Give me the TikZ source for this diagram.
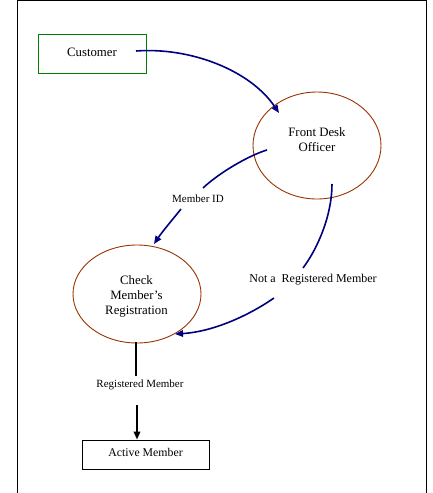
\documentclass[tikz,border=0pt]{standalone}
\usepackage{fontspec}
\setmainfont{Liberation Serif}
\usetikzlibrary{shapes.geometric,arrows.meta}
\definecolor{navyc}{RGB}{0,0,128}
\definecolor{brownc}{RGB}{153,51,0}
\definecolor{greenc}{RGB}{0,128,0}
\tikzset{
  procell/.style={draw=brownc, line width=0.9pt, ellipse, inner sep=0pt},
  entbox/.style={draw, line width=0.9pt, rectangle, inner sep=0pt},
  flow/.style={draw=navyc, line width=1.6pt},
  flowarr/.style={flow, -{Triangle[length=8pt,width=6.5pt]}},
  blk/.style={draw=black, line width=1.8pt},
  blkarr/.style={blk, -{Triangle[length=8pt,width=6.5pt]}},
  lbl/.style={inner sep=0pt, align=center}
}
\begin{document}
\begin{tikzpicture}[x=1pt,y=-1pt]
\useasboundingbox (0,0) rectangle (433,493);
\fill[white] (0,0) rectangle (433,493);
\draw[line width=1.3pt] (17.5,493) -- (17.5,0.7) -- (426.5,0.7) -- (426.5,493);

\node[entbox, draw=greenc, minimum width=108pt, minimum height=39pt] (cust) at (92,53.5) {};
\node[lbl, font=\fontsize{12.8}{15}\selectfont] (custtext) at (92,52) {Customer};

\node[procell, minimum width=128pt, minimum height=107pt] (fd) at (317,145.5) {};
\node[lbl, font=\fontsize{12.8}{15}\selectfont] (fdtext) at (317,139.5) {Front Desk\\Officer};

\node[procell, minimum width=128pt, minimum height=98pt] (chk) at (137,294) {};
\node[lbl, font=\fontsize{12.8}{15}\selectfont] (chktext) at (136.5,296) {Check\\Member’s\\Registration};

\node[entbox, minimum width=127pt, minimum height=29pt] (act) at (145.5,454.5) {};
\node[lbl, font=\fontsize{11.8}{14}\selectfont] (acttext) at (145.5,452) {Active Member};

\node[lbl, font=\fontsize{11}{13}\selectfont] (memid) at (198,199) {Member ID};
\node[lbl, font=\fontsize{12}{14}\selectfont] (notreg) at (313,280) {Not a\ \ Registered Member};
\node[lbl, font=\fontsize{11}{13}\selectfont] (regm) at (140,385) {Registered Member};

% Customer -> Front Desk
\draw[flowarr] ([shift={(44,-2.5)}]cust.center) .. controls +(54,-4) and +(-29,-43) .. ([shift={(-38,-32.5)}]fd.center);

% Front Desk -> Member ID -> Check
\draw[flow] ([shift={(-50,4.5)}]fd.center) .. controls +(-17,5) and +(17,-16) .. ([shift={(5,-11)}]memid.center);
\draw[flowarr] ([shift={(-17,10)}]memid.center) .. controls +(-8,10) and +(8,-12) .. ([shift={(17,-50)}]chk.center);

% Front Desk -> Not a Registered Member -> Check
\draw[flow] ([shift={(15,38.5)}]fd.center) .. controls +(0,31) and +(15,-20) .. ([shift={(-10,-12)}]notreg.center);
\draw[flowarr] ([shift={(-39,18)}]notreg.center) .. controls +(-29,20) and +(35,-2) .. ([shift={(38,40)}]chk.center);

% Check -> Registered Member -> Active Member
\draw[blk] ([shift={(-1,48)}]chk.center) -- ([shift={(-4,-9)}]regm.center);
\draw[blkarr] ([shift={(-3,20)}]regm.center) -- ([shift={(-8.5,0)}]act.north);
\end{tikzpicture}
\end{document}
